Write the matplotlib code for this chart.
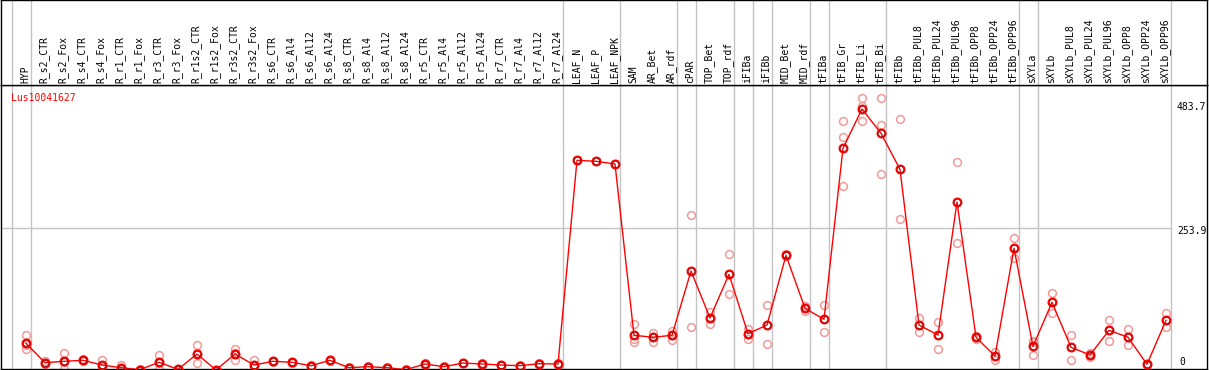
import matplotlib
matplotlib.use("Agg")
import matplotlib.pyplot as plt
import matplotlib.transforms as mtransforms

# ---------------- data ----------------
gene = "Lus10041627"
samples = ["HYP",
           "R_s2_CTR", "R_s2_Fox", "R_s4_CTR", "R_s4_Fox", "R_r1_CTR", "R_r1_Fox",
           "R_r3_CTR", "R_r3_Fox", "R_r1s2_CTR", "R_r1s2_Fox", "R_r3s2_CTR", "R_r3s2_Fox",
           "R_s6_CTR", "R_s6_Al4", "R_s6_Al12", "R_s6_Al24",
           "R_s8_CTR", "R_s8_Al4", "R_s8_Al12", "R_s8_Al24",
           "R_r5_CTR", "R_r5_Al4", "R_r5_Al12", "R_r5_Al24",
           "R_r7_CTR", "R_r7_Al4", "R_r7_Al12", "R_r7_Al24",
           "LEAF_N", "LEAF_P", "LEAF_NPK",
           "SAM", "AR_Bet", "AR_rdf", "cPAR", "TOP_Bet", "TOP_rdf",
           "iFIBa", "iFIBb", "MID_Bet", "MID_rdf", "tFIBa",
           "tFIB_Gr", "tFIB_Li", "tFIB_Bi",
           "tFIBb", "tFIBb_PUL8", "tFIBb_PUL24", "tFIBb_PUL96",
           "tFIBb_OPP8", "tFIBb_OPP24", "tFIBb_OPP96",
           "sXYLa", "sXYLb", "sXYLb_PUL8", "sXYLb_PUL24", "sXYLb_PUL96",
           "sXYLb_OPP8", "sXYLb_OPP24", "sXYLb_OPP96"]

group_sizes = [1, 28, 3, 3, 1, 2, 1, 1, 2, 1, 3, 7, 1, 7]

means = [50.6,
         16.3, 18.7, 20.5, 12.2, 7.4, 4.0, 17.0, 4.5, 31.6, 3.5, 31.6, 12.2,
         18.7, 17.0, 10.9, 20.5, 7.4, 9.2, 7.4, 4.0,
         14.0, 9.2, 15.7, 14.0, 12.2, 11.0, 14.5, 14.0,
         374.0, 372.3, 367.5,
         64.7, 61.2, 64.7, 178.4, 95.3, 172.5,
         67.5, 82.9, 206.1, 112.4, 93.0,
         395.3, 464.7, 421.8,
         358.1, 82.9, 65.2, 300.3, 61.2, 28.1, 218.5,
         45.2, 123.0, 43.5, 29.9, 73.5, 61.2, 13.4, 91.2]

replicates = [[65, 40, 47],
              [20, 14, 15], [33, 5, 18], [22, 19, 20.5], [21, 8, 8], [12, 5, 5],
              [5, 3, 4], [30, 5, 16], [6, 4, 4], [47, 15, 33], [4, 3, 3.5],
              [41, 21, 33], [20.5, 8, 8],
              [19.5, 18, 18.5], [18, 16.5, 17], [11.5, 10, 11], [21, 20, 20.5],
              [8, 7, 7.5], [10, 8.5, 9], [8, 7, 7.2], [4.5, 3.5, 4],
              [15, 13, 14], [10, 8.5, 9.2], [16.5, 15, 15.7], [15, 13, 14],
              [13, 11.5, 12.2], [12, 10, 11], [15.5, 13.5, 14.5], [15, 13, 14],
              [374.0], [372.3], [367.5],
              [85, 58, 52], [69, 53, 61], [73, 56, 65], [277, 79], [106, 85],
              [208, 137], [76, 59], [118, 49], [208, 204], [116.5, 108],
              [118, 70.5],
              [443.5, 414.7, 328.6], [483.7, 470.6, 443.5], [483.7, 436.4, 349.8],
              [447, 270], [95, 71], [89, 40], [370.5, 228], [63, 59],
              [35.7, 20.5], [236, 201],
              [55, 29, 52], [139, 105], [65, 20.5], [27, 33], [91, 55],
              [76, 47], [14, 13], [105, 79]]

ref_lines = [483.7, 253.9, 0]

# ---------------- layout ----------------
W, H = 1209, 370
fig = plt.figure(figsize=(W / 100, H / 100), dpi=100)
mono = "DejaVu Sans Mono"

x_left, x_right = 1, 1207
y_head_top, y_head_bot, y_bot = 0, 85, 369

ax = fig.add_axes([x_left / W, (H - y_bot) / H, (x_right - x_left) / W,
                   (y_bot - y_head_bot) / H])
hx = fig.add_axes([x_left / W, (H - y_head_bot) / H, (x_right - x_left) / W,
                   (y_head_bot - y_head_top) / H - 0.001], sharex=ax)

x0_px, step_px = 26, 19
ax.set_xlim((x_left - x0_px) / step_px, (x_right - x0_px) / step_px)
# y mapping: value v -> pixel 371.9 - 0.5657 v
y0_px, ky = 371.9, 0.5657
ax.set_ylim((y0_px - y_bot) / ky, (y0_px - y_head_bot) / ky)

for a in (ax, hx):
    a.set_xticks([])
    a.set_yticks([])
    for s in a.spines.values():
        s.set_color("black")
        s.set_linewidth(1.0)
    a.set_facecolor("white")
hx.set_ylim(0, 1)

# group separators
bounds = [-1]
c = -1
for g in group_sizes:
    c += g
    bounds.append(c)
off = 0.24
last_x = bounds[-1] + off
for b in bounds:
    for a in (ax, hx):
        a.axvline(b + off, color="#c4c4c4", lw=1.0, zorder=1)

# horizontal reference line
ax.plot([ax.get_xlim()[0], last_x], [ref_lines[1]] * 2, color="#c4c4c4",
        lw=1.0, zorder=1)

# header labels
htrans = mtransforms.blended_transform_factory(hx.transData, hx.transAxes)
for i, lab in enumerate(samples):
    hx.text(i - 0.05, 0.027, lab, rotation=90, ha="center", va="bottom",
            fontsize=7, family=mono, transform=htrans)

# replicate points
for i, reps in enumerate(replicates):
    ax.plot([i] * len(reps), reps, linestyle="none", marker="o", ms=5.6,
            mfc="none", mec="#f09a9a", mew=1.1, zorder=2, clip_on=True)

# mean line + markers
xs = list(range(len(means)))
ax.plot(xs, means, color="red", lw=1.0, zorder=3)
ax.plot(xs, means, linestyle="none", marker="o", ms=5.8, mfc="none",
        mec="red", mew=1.4, zorder=4)
ax.plot(xs, means, linestyle="none", marker="o", ms=4.4, mfc="none",
        mec="#500000", mew=0.35, zorder=5)

# y labels on the right
lab_x = last_x + 0.33
ax.annotate("483.7", (lab_x, ref_lines[0]), xytext=(0, -9),
            textcoords="offset pixels", ha="left", va="center",
            fontsize=7, family=mono)
ax.annotate("253.9", (lab_x, ref_lines[1]), xytext=(0, -3),
            textcoords="offset pixels", ha="left", va="center",
            fontsize=7, family=mono)
ax.annotate("0", (lab_x + 0.12, ref_lines[2]), xytext=(0, 10),
            textcoords="offset pixels", ha="left", va="center",
            fontsize=7, family=mono, annotation_clip=False)

# gene name
ax.text(10 / (x_right - x_left), 1 - (97.7 - y_head_bot) / (y_bot - y_head_bot),
        gene, color="red", fontsize=7, family=mono, ha="left", va="center",
        transform=ax.transAxes)

fig.savefig("out.png", dpi=100, facecolor="white")
